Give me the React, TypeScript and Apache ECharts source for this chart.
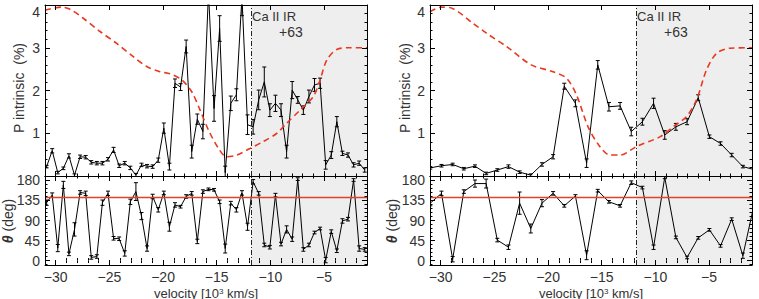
import React, { useEffect, useRef } from 'react';
import * as echarts from 'echarts';

// ---------- data ----------
const velocityLeft = [
  -30.85, -30.33, -29.81, -29.29, -28.77, -28.25, -27.73, -27.21, -26.69, -26.17,
  -25.65, -25.13, -24.61, -24.09, -23.57, -23.05, -22.53, -22.01, -21.49, -20.97,
  -20.45, -19.93, -19.41, -18.89, -18.37, -17.85, -17.33, -16.81, -16.29, -15.77,
  -15.25, -14.73, -14.21, -13.69, -13.17, -12.65, -12.13, -11.61, -11.09, -10.57,
  -10.05, -9.53, -9.01, -8.49, -7.97, -7.45, -6.93, -6.41, -5.89, -5.37,
  -4.85, -4.33, -3.81, -3.29, -2.77, -2.25, -1.73, -1.21,
];
const pLeft = [
  0.22, 0.59, 0.08, 0.18, 0.47, 0.02, 0.45, 0.44, 0.32, 0.3,
  0.3, 0.39, 0.61, 0.24, 0.3, 0.19, 0.02, 0.26, 0.23, 0.22,
  0.37, 1.12, 0.22, 2.17, 2.08, 3.03, 0.57, 1.33, 1.04, 4.3,
  1.58, 3.45, 0.08, 1.7, 1.9, 4.2, 1.2, 1.15, 1.78, 2.2,
  1.54, 1.7, 1.54, 0.57, 2.01, 1.78, 1.54, 1.86, 2.13, 2.17,
  0.26, 0.49, 1.27, 0.53, 0.49, 0.26, 0.3, 0.14,
];
const pErrLeft = [
  0.03, 0.05, 0.03, 0.03, 0.05, 0.03, 0.04, 0.04, 0.04, 0.04,
  0.04, 0.04, 0.06, 0.04, 0.04, 0.04, 0.04, 0.04, 0.04, 0.04,
  0.05, 0.12, 0.08, 0.1, 0.08, 0.15, 0.15, 0.12, 0.17, 0.2,
  0.3, 0.3, 0.15, 0.17, 0.14, 0.45, 0.23, 0.17, 0.23, 0.35,
  0.15, 0.19, 0.15, 0.15, 0.2, 0.08, 0.1, 0.15, 0.15, 0.12,
  0.1, 0.08, 0.12, 0.05, 0.05, 0.05, 0.05, 0.05,
];
const thetaLeft = [
  130, 147, 28, 170, 15, 70, 153, 151, 7, 9,
  130, 151, 50, 49, 16, 132, 155, 100, 27, 144,
  114, 152, 76, 125, 121, 144, 151, 43, 155, 160,
  159, 132, 27, 129, 114, 152, 76, 177, 151, 35,
  30, 147, 37, 70, 48, 183, 25, 35, 63, 72,
  1, 65, 22, 89, 93, 181, 27, 25,
];
const thetaErrLeft = [
  6, 5, 8, 8, 4, 15, 4, 5, 4, 4,
  6, 5, 4, 4, 6, 6, 20, 8, 6, 5,
  5, 4, 10, 5, 3, 4, 4, 5, 4, 3,
  3, 4, 10, 4, 5, 5, 8, 5, 4, 4,
  4, 4, 4, 8, 5, 3, 4, 4, 3, 3,
  6, 4, 4, 5, 4, 3, 6, 4,
];

const velocityRight = [
  -30.97, -29.93, -28.89, -27.85, -26.81, -25.77, -24.73, -23.69, -22.65, -21.61,
  -20.57, -19.53, -18.49, -17.45, -16.41, -15.37, -14.33, -13.29, -12.25, -11.21,
  -10.17, -9.13, -8.09, -7.05, -6.01, -4.97, -3.93, -2.89, -1.85, -0.81,
];
const pRight = [
  0.19, 0.24, 0.27, 0.17, 0.23, 0.06, 0.14, 0.22, 0.09, 0.02,
  0.27, 0.45, 2.1, 1.7, 0.3, 2.6, 1.62, 1.64, 1.04, 1.27,
  1.7, 0.96, 1.15, 1.27, 1.83, 0.92, 0.76, 0.49, 0.22, 0.15,
];
const pErrRight = [
  0.03, 0.03, 0.03, 0.03, 0.03, 0.03, 0.03, 0.04, 0.03, 0.03,
  0.04, 0.05, 0.07, 0.08, 0.1, 0.1, 0.1, 0.08, 0.1, 0.08,
  0.12, 0.1, 0.08, 0.07, 0.07, 0.04, 0.04, 0.04, 0.03, 0.03,
];
const thetaRight = [
  129, 151, 3, 155, 173, 173, 46, 30, 129, 72,
  129, 151, 123, 145, 12, 157, 132, 123, 175, 164,
  30, 187, 52, 7, 51, 69, 33, 93, 11, 125,
];
const thetaErrRight = [
  6, 5, 6, 4, 8, 10, 4, 5, 25, 10,
  8, 4, 3, 3, 10, 3, 3, 3, 4, 3,
  5, 3, 3, 3, 3, 3, 3, 3, 6, 5,
];

const modelVelLeft = [
  -31, -29.44, -28.67, -27.43, -25.87, -24.32, -22.77, -21.52, -20.28, -19.35,
  -18.26, -17.33, -16.55, -15.78, -14.85, -14.07, -13.13, -12.0, -10.7, -9.4,
  -8.5, -7.24, -6.0, -5.37, -4.75, -3.82, -2.57, -1,
];
const modelPLeft = [
  3.88, 3.95, 3.9, 3.69, 3.38, 3.1, 2.79, 2.56, 2.44, 2.39,
  2.25, 1.97, 1.54, 1.08, 0.65, 0.45, 0.49, 0.63, 0.8, 1.0,
  1.23, 1.54, 1.86, 2.25, 2.71, 2.96, 3.0, 3.0,
];
const modelVelRight = [
  -31, -29.94, -28.9, -26.99, -25.74, -23.88, -21.57, -19.54, -18.29, -17.36,
  -16.27, -15.18, -14.25, -13.3, -11.76, -9.55, -8.35, -7.1, -6.17, -5.24,
  -4.3, -3.05, -1,
];
const modelPRight = [
  3.84, 3.95, 3.92, 3.57, 3.34, 3.03, 2.6, 2.44, 2.29, 1.9,
  1.15, 0.69, 0.49, 0.49, 0.69, 0.92, 1.15, 1.39, 1.78, 2.48,
  2.87, 2.99, 3.0,
];

const velocityTicks = [-30, -25, -20, -15, -10, -5];
const pTicks = [0, 1, 2, 3, 4];
const pTickLabels = [1, 2, 3, 4];
const thetaTicks = [0, 45, 90, 135, 180];
const caBoundary = -11.8;
const thetaReference = 143;
const lineName = 'Ca II IR';
const lineShift = '+63';
const pTitle = 'P intrinsic  (%)';
const thetaTitle = '{t|θ} (deg)';
const velocityTitle = 'velocity [10{s|3} km/s]';

// ---------- styling / layout ----------
const FONT = '"Liberation Sans", Arial, sans-serif';
const TXT = '#333';
const X_MIN = -31;
const X_MAX = -1;
const P_MIN = 0;
const P_MAX = 4;
const T_MIN = -10;
const T_MAX = 190;

const minorX: number[] = [];
for (let v = -31; v <= -1; v += 1) if (v % 5 !== 0) minorX.push(v);
const minorP: number[] = [];
for (let k = 1; k < 20; k++) if (k % 5 !== 0) minorP.push(k / 5);
const minorT: number[] = [];
for (let v = -9; v <= 189; v += 9) if (v % 45 !== 0) minorT.push(v);

const fmtMinus = (v: number) => (v < 0 ? '\u2212' + Math.abs(v) : String(v));

function xAxesFor(grid: number, labels: boolean) {
  const base = {
    type: 'value', gridIndex: grid, min: X_MIN, max: X_MAX, z: 10,
    splitLine: { show: false },
    axisLine: { show: true, onZero: false, lineStyle: { color: '#000', width: 1 } },
  };
  const major = { show: true, inside: true, length: 5, customValues: velocityTicks, lineStyle: { color: '#000', width: 1 } };
  const minor = { show: true, inside: true, length: 2.5, customValues: minorX, lineStyle: { color: '#000', width: 1 } };
  return [
    {
      ...base, position: 'bottom', axisTick: major,
      axisLabel: { show: labels, customValues: velocityTicks, formatter: fmtMinus, margin: 5, fontSize: 14, color: TXT, fontFamily: FONT },
    },
    { ...base, position: 'top', axisTick: major, axisLabel: { show: false } },
    { ...base, position: 'bottom', axisLine: { show: false }, axisTick: minor, axisLabel: { show: false } },
    { ...base, position: 'top', axisLine: { show: false }, axisTick: minor, axisLabel: { show: false } },
  ];
}

function yAxesFor(grid: number, top: boolean) {
  const base = {
    type: 'value', gridIndex: grid, z: 10,
    min: top ? P_MIN : T_MIN, max: top ? P_MAX : T_MAX,
    splitLine: { show: false },
    axisLine: { show: true, onZero: false, lineStyle: { color: '#000', width: 1 } },
  };
  const majorVals = top ? pTicks : thetaTicks;
  const labelVals = top ? pTickLabels : thetaTicks;
  const major = { show: true, inside: true, length: 5, customValues: majorVals, lineStyle: { color: '#000', width: 1 } };
  const minor = { show: true, inside: true, length: 2.5, customValues: top ? minorP : minorT, lineStyle: { color: '#000', width: 1 } };
  return [
    {
      ...base, position: 'left', axisTick: major,
      axisLabel: {
        show: true, customValues: labelVals, margin: 5, fontSize: 14, color: TXT, fontFamily: FONT,
        verticalAlignMaxLabel: top ? 'top' : undefined,
      },
    },
    { ...base, position: 'right', axisTick: major, axisLabel: { show: false } },
    { ...base, position: 'left', axisLine: { show: false }, axisTick: minor, axisLabel: { show: false } },
    { ...base, position: 'right', axisLine: { show: false }, axisTick: minor, axisLabel: { show: false } },
  ];
}

function errorBars(xs: number[], ys: number[], es: number[], axis: number) {
  return {
    type: 'custom',
    xAxisIndex: axis, yAxisIndex: axis,
    clip: true, silent: true, z: 4,
    data: xs.map((x, i) => [x, ys[i], es[i]]),
    encode: { x: 0, y: 1 },
    renderItem: (_p: any, api: any) => {
      const x = api.value(0), y = api.value(1), e = api.value(2);
      const a = api.coord([x, y + e]);
      const b = api.coord([x, y - e]);
      const w = 2;
      const style = { stroke: '#000', lineWidth: 1, fill: 'none' };
      return {
        type: 'group',
        children: [
          { type: 'line', shape: { x1: a[0], y1: a[1], x2: b[0], y2: b[1] }, style },
          { type: 'line', shape: { x1: a[0] - w, y1: a[1], x2: a[0] + w, y2: a[1] }, style },
          { type: 'line', shape: { x1: b[0] - w, y1: b[1], x2: b[0] + w, y2: b[1] }, style },
        ],
      };
    },
  };
}

function panelSeries(xs: number[], ys: number[], es: number[], axis: number, isTheta: boolean) {
  const pts = xs.map((x, i) => [x, ys[i]]);
  const markLineData: any[] = [{ xAxis: caBoundary, lineStyle: { color: '#222', width: 1, type: [5, 2, 1, 2] } }];
  if (isTheta) markLineData.push({ yAxis: thetaReference, lineStyle: { color: '#e2412b', width: 1.3, type: 'solid' } });
  return [
    {
      type: 'line', xAxisIndex: axis, yAxisIndex: axis, data: pts, symbol: 'none', silent: true, z: 1,
      lineStyle: { opacity: 0 },
      markArea: { silent: true, itemStyle: { color: '#eeeeee' }, data: [[{ xAxis: caBoundary }, { xAxis: X_MAX }]] },
      markLine: { silent: true, symbol: 'none', label: { show: false }, data: markLineData },
    },
    {
      type: 'line', xAxisIndex: axis, yAxisIndex: axis, data: pts, symbol: 'none', silent: true, z: 3,
      clip: true, lineStyle: { color: '#000', width: 1 },
    },
    errorBars(xs, ys, es, axis),
  ];
}

function modelSeries(xs: number[], ys: number[], axis: number) {
  return {
    type: 'line', xAxisIndex: axis, yAxisIndex: axis, symbol: 'none', silent: true, z: 5,
    smooth: 0.3, clip: true,
    data: xs.map((x, i) => [x, ys[i]]),
    lineStyle: { color: '#e8381f', width: 1.6, type: [6, 4] },
  };
}

export default function App() {
  const ref = useRef<HTMLDivElement>(null);
  useEffect(() => {
    if (!ref.current) return;
    const chart = echarts.init(ref.current, undefined, { renderer: 'svg' });
    const grids = [
      { left: 45, top: 5, width: 322, height: 171 },
      { left: 45, top: 176, width: 322, height: 89 },
      { left: 430, top: 5, width: 322, height: 171 },
      { left: 430, top: 176, width: 322, height: 89 },
    ];
    const xAxis = [
      ...xAxesFor(0, false), ...xAxesFor(1, true), ...xAxesFor(2, false), ...xAxesFor(3, true),
    ];
    const yAxis = [
      ...yAxesFor(0, true), ...yAxesFor(1, false), ...yAxesFor(2, true), ...yAxesFor(3, false),
    ];
    const series: any[] = [
      ...panelSeries(velocityLeft, pLeft, pErrLeft, 0, false),
      ...panelSeries(velocityLeft, thetaLeft, thetaErrLeft, 4, true),
      ...panelSeries(velocityRight, pRight, pErrRight, 8, false),
      ...panelSeries(velocityRight, thetaRight, thetaErrRight, 12, true),
      modelSeries(modelVelLeft, modelPLeft, 0),
      modelSeries(modelVelRight, modelPRight, 8),
    ];
    const txt = (text: string, x: number, y: number, extra: any = {}) => ({
      type: 'text', x, y, z: 20, silent: true,
      style: { text, fontSize: 14, fontFamily: FONT, fill: TXT, align: 'center', verticalAlign: 'middle', ...extra },
    });
    const rich = {
      t: { fontStyle: 'italic', fontWeight: 'bold', fontSize: 14, fontFamily: FONT, fill: TXT },
      s: { fontSize: 8, fontFamily: FONT, fill: TXT, padding: [0, 0, 4, 0] },
    };
    const graphic: any[] = [
      txt(lineName, 252, 16, { align: 'left', fontSize: 13 }),
      txt(lineShift, 279, 32, { align: 'left', fontSize: 14 }),
      txt(lineName, 637, 16, { align: 'left', fontSize: 13 }),
      txt(lineShift, 664, 32, { align: 'left', fontSize: 14 }),
      { ...txt(pTitle, 19, 88), rotation: Math.PI / 2 },
      { ...txt(pTitle, 405, 88), rotation: Math.PI / 2 },
      { ...txt(thetaTitle, 8, 221, { rich }), rotation: Math.PI / 2 },
      { ...txt(thetaTitle, 392, 221, { rich }), rotation: Math.PI / 2 },
      txt(velocityTitle, 206, 293, { rich, fontSize: 13 }),
      txt(velocityTitle, 591, 293, { rich, fontSize: 13 }),
    ];
    chart.setOption({
      animation: false,
      backgroundColor: '#ffffff',
      grid: grids,
      xAxis,
      yAxis,
      series,
      graphic,
    });
    return () => chart.dispose();
  }, []);
  return (
    <div
      ref={ref}
      style={{ position: 'fixed', left: 0, top: 0, width: 759, height: 299, background: '#fff' }}
    />
  );
}
